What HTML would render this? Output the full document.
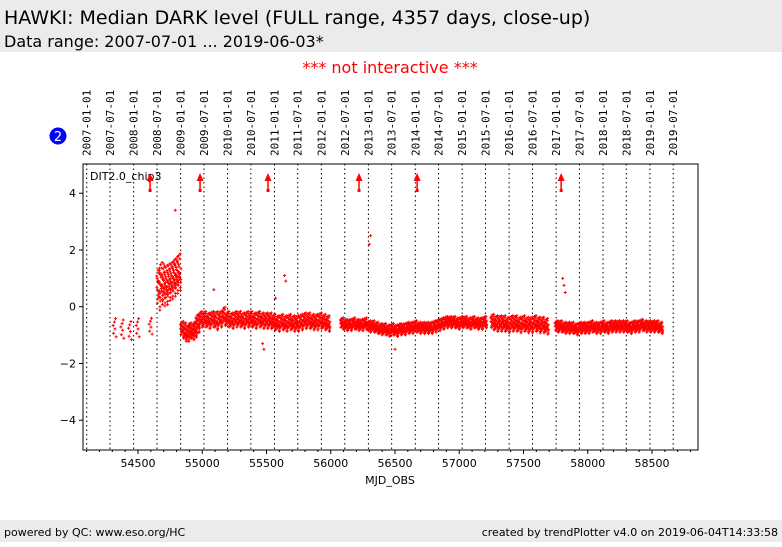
<!DOCTYPE html>
<html><head><meta charset="utf-8"><style>
body{margin:0;width:782px;height:542px;overflow:hidden;background:#fff;font-family:"Liberation Sans","DejaVu Sans",sans-serif}
</style></head><body>
<svg id="c" width="782" height="542" xmlns="http://www.w3.org/2000/svg">
<rect x="0" y="0" width="782" height="52" fill="#ebebeb"/>
<text x="4" y="24" font-size="19" font-family="DejaVu Sans, sans-serif">HAWKI: Median DARK level (FULL range, 4357 days, close-up)</text>
<text x="4" y="47" font-size="16" font-family="DejaVu Sans, sans-serif">Data range: 2007-07-01 ... 2019-06-03*</text>
<text x="390" y="73" font-size="16" fill="#ff0000" text-anchor="middle" font-family="DejaVu Sans, sans-serif">*** not interactive ***</text>
<circle cx="58" cy="136" r="8.5" fill="#0000ff"/>
<text x="58" y="141" font-size="13" fill="#fff" text-anchor="middle" font-family="DejaVu Sans, sans-serif">2</text>
<rect x="0" y="520" width="782" height="22" fill="#ebebeb"/>
<text x="4" y="536" font-size="11" font-family="DejaVu Sans, sans-serif">powered by QC: www.eso.org/HC</text>
<text x="778" y="536" font-size="11" text-anchor="end" font-family="DejaVu Sans, sans-serif">created by trendPlotter v4.0 on 2019-06-04T14:33:58</text>
<g id="plot"></g>
</svg>
<script>
const dateLabels=["2007-01-01","2007-07-01","2008-01-01","2008-07-01","2009-01-01","2009-07-01","2010-01-01","2010-07-01","2011-01-01","2011-07-01","2012-01-01","2012-07-01","2013-01-01","2013-07-01","2014-01-01","2014-07-01","2015-01-01","2015-07-01","2016-01-01","2016-07-01","2017-01-01","2017-07-01","2018-01-01","2018-07-01","2019-01-01","2019-07-01"];
const dateMjd=[54101,54282,54466,54648,54832,55013,55197,55378,55562,55743,55927,56109,56293,56474,56658,56839,57023,57204,57388,57570,57754,57935,58119,58300,58484,58665];
const xTicks=[54500,55000,55500,56000,56500,57000,57500,58000,58500];
const yTicks=[-4,-2,0,2,4];
const arrowMjd=[54594,54983,55512,56220,56672,57793];
const binMjd=[54320,54380,54440,54500,54600,54660,54680,54700,54720,54740,54760,54780,54800,54820,54845,54865,54885,54905,54925,54945,54965,54990,55020,55050,55080,55110,55140,55170,55200,55230,55260,55290,55320,55350,55380,55410,55440,55470,55500,55530,55560,55590,55620,55650,55680,55710,55740,55770,55800,55830,55860,55890,55920,55950,55980,56090,56120,56150,56180,56210,56240,56270,56300,56330,56360,56390,56420,56450,56480,56510,56540,56570,56600,56630,56660,56690,56720,56750,56780,56810,56840,56870,56900,56930,56960,56990,57020,57050,57080,57110,57140,57170,57200,57260,57290,57320,57350,57380,57410,57440,57470,57500,57530,57560,57590,57620,57650,57680,57760,57790,57820,57850,57880,57910,57940,57970,58000,58030,58060,58090,58120,58150,58180,58210,58240,58270,58300,58330,58360,58390,58420,58450,58480,58510,58540,58570,58600,58620];
const binVal=[-0.7,-0.75,-0.8,-0.7,-0.65,0.6,0.8,0.7,0.75,0.85,0.9,1.0,1.1,1.2,-0.8,-0.9,-0.95,-0.85,-0.9,-0.8,-0.6,-0.45,-0.45,-0.5,-0.45,-0.5,-0.45,-0.35,-0.45,-0.5,-0.45,-0.45,-0.5,-0.45,-0.45,-0.5,-0.45,-0.5,-0.5,-0.5,-0.55,-0.6,-0.55,-0.6,-0.55,-0.6,-0.6,-0.55,-0.5,-0.5,-0.55,-0.55,-0.5,-0.55,-0.6,-0.6,-0.65,-0.65,-0.6,-0.65,-0.65,-0.6,-0.7,-0.7,-0.75,-0.8,-0.8,-0.85,-0.8,-0.85,-0.8,-0.8,-0.75,-0.75,-0.7,-0.75,-0.75,-0.75,-0.75,-0.7,-0.65,-0.6,-0.55,-0.55,-0.55,-0.6,-0.55,-0.55,-0.6,-0.55,-0.6,-0.6,-0.55,-0.55,-0.6,-0.6,-0.6,-0.65,-0.6,-0.6,-0.65,-0.6,-0.65,-0.65,-0.6,-0.65,-0.65,-0.7,-0.7,-0.7,-0.75,-0.75,-0.75,-0.8,-0.75,-0.75,-0.75,-0.7,-0.75,-0.75,-0.7,-0.75,-0.7,-0.7,-0.7,-0.7,-0.7,-0.75,-0.7,-0.7,-0.65,-0.7,-0.7,-0.7,-0.7,-0.75];
const binSpread=[0.4,0.4,0.4,0.4,0.35,0.8,0.8,0.75,0.75,0.7,0.7,0.7,0.7,0.7,0.3,0.35,0.3,0.3,0.3,0.3,0.35,0.3,0.3,0.3,0.3,0.35,0.3,0.35,0.3,0.3,0.3,0.3,0.3,0.3,0.3,0.3,0.3,0.3,0.3,0.3,0.3,0.3,0.3,0.3,0.3,0.3,0.3,0.3,0.3,0.3,0.3,0.3,0.3,0.3,0.3,0.22,0.22,0.22,0.22,0.22,0.22,0.22,0.22,0.22,0.22,0.22,0.22,0.22,0.22,0.22,0.22,0.22,0.22,0.22,0.22,0.22,0.22,0.22,0.22,0.22,0.22,0.22,0.22,0.22,0.22,0.22,0.22,0.22,0.22,0.22,0.22,0.22,0.22,0.3,0.3,0.3,0.3,0.3,0.3,0.3,0.3,0.3,0.3,0.3,0.3,0.3,0.3,0.3,0.22,0.22,0.22,0.22,0.22,0.22,0.22,0.22,0.22,0.22,0.22,0.22,0.22,0.22,0.22,0.22,0.22,0.22,0.22,0.22,0.22,0.22,0.22,0.22,0.22,0.22,0.22,0.22,0.22,0.22];
const outMjd=[54790,56310,56300,55640,55650,56500,55480,55470,57805,57815,57825,55090,54700,55570];
const outVal=[3.4,2.5,2.2,1.1,0.9,-1.5,-1.5,-1.3,1.0,0.75,0.5,0.6,1.5,0.3];

const X0=83,X1=698,Y0=164,Y1=450,XMIN=54072,XMAX=58858,YMIN=-5.05,YMAX=5.03;
const xs=v=>X0+(v-XMIN)/(XMAX-XMIN)*(X1-X0);
const ys=v=>Y1-(v-YMIN)/(YMAX-YMIN)*(Y1-Y0);
const NS="http://www.w3.org/2000/svg";
const g=document.getElementById('plot');
function mk(t,a,p){const e=document.createElementNS(NS,t);for(const k in a)e.setAttribute(k,a[k]);(p||g).appendChild(e);return e;}

dateMjd.forEach((m,i)=>{
  const x=xs(m);
  const l=mk('line',{x1:x,x2:x,y1:Y0,y2:Y1,stroke:'#000','stroke-width':1,'stroke-dasharray':'1.5,3'});
  
  
  const t=mk('text',{x:0,y:0,'font-size':11,'font-family':'DejaVu Sans Mono, Liberation Mono, monospace','text-anchor':'start',transform:`translate(${x+4},156) rotate(-90)`});
  t.textContent=dateLabels[i];
  
  
});
const frame=mk('rect',{x:X0,y:Y0,width:X1-X0,height:Y1-Y0,fill:'none',stroke:'#000','stroke-width':1});


for(let m=54100;m<=58800;m+=100){const x=xs(m);const big=m%500===0;
  const tk=mk('line',{x1:x,x2:x,y1:Y1,y2:Y1+(big?4:2),stroke:'#000'});
  
  }
xTicks.forEach(v=>{const t=mk('text',{x:xs(v),y:467,'font-size':11,'text-anchor':'middle','font-family':'DejaVu Sans, sans-serif'});t.textContent=v;
  
  });
yTicks.forEach(v=>{const y=ys(v);
  const tk=mk('line',{x1:X0-4,x2:X0,y1:y,y2:y,stroke:'#000'});
  
  
  const t=mk('text',{x:76,y:y+4,'font-size':11,'text-anchor':'end','font-family':'DejaVu Sans, sans-serif'});t.textContent=v<0?'\u2212'+(-v):v;
  
  });
const xt=mk('text',{x:390,y:484,'font-size':11,'text-anchor':'middle','font-family':'DejaVu Sans, sans-serif'});xt.textContent='MJD_OBS';


const lg=mk('text',{x:90,y:180,'font-size':11,'font-family':'DejaVu Sans, sans-serif'});lg.textContent='DIT2.0_chip3';



const pts=mk('g',{stroke:'#ff0000','stroke-width':1});


const offX=[-0.45,-0.32,-0.12,0.02,0.17,0.33,0.47,-0.38,-0.22,0.07,0.26,0.41,-0.05,0.36,-0.27,0.12,-0.48,0.21,-0.15,0.44];
const offY=[0.1,-0.6,0.4,-0.2,0.7,-0.9,0.2,0.5,-0.4,-0.1,0.95,-0.5,0.3,-0.75,0.0,-0.3,0.6,-0.05,0.85,-0.35];
function cross(x,y){mk('path',{d:`M${x-1.5},${y}h3M${x},${y-1.5}v3`},pts);}
binMjd.forEach((m,i)=>{
  const n=i<5?6:20;
  for(let k=0;k<n;k++){
    const px=xs(m+offX[k]*(i<5?30:30)), py=ys(binVal[i]+offY[k]*binSpread[i]);
    cross(px,py);
  }
});
outMjd.forEach((m,i)=>cross(xs(m),ys(outVal[i])));

arrowMjd.forEach(m=>{const x=xs(m);
  const a=mk('g',{fill:'#ff0000',stroke:'#ff0000'});
  
  
  mk('line',{x1:x,x2:x,y1:191,y2:180,'stroke-width':1.5},a);
  mk('rect',{x:x-1.5,y:189,width:3,height:3,stroke:'none'},a);
  mk('path',{d:`M${x-3.5},181L${x},173L${x+3.5},181Z`,stroke:'none'},a);
});
</script>
</body></html>
